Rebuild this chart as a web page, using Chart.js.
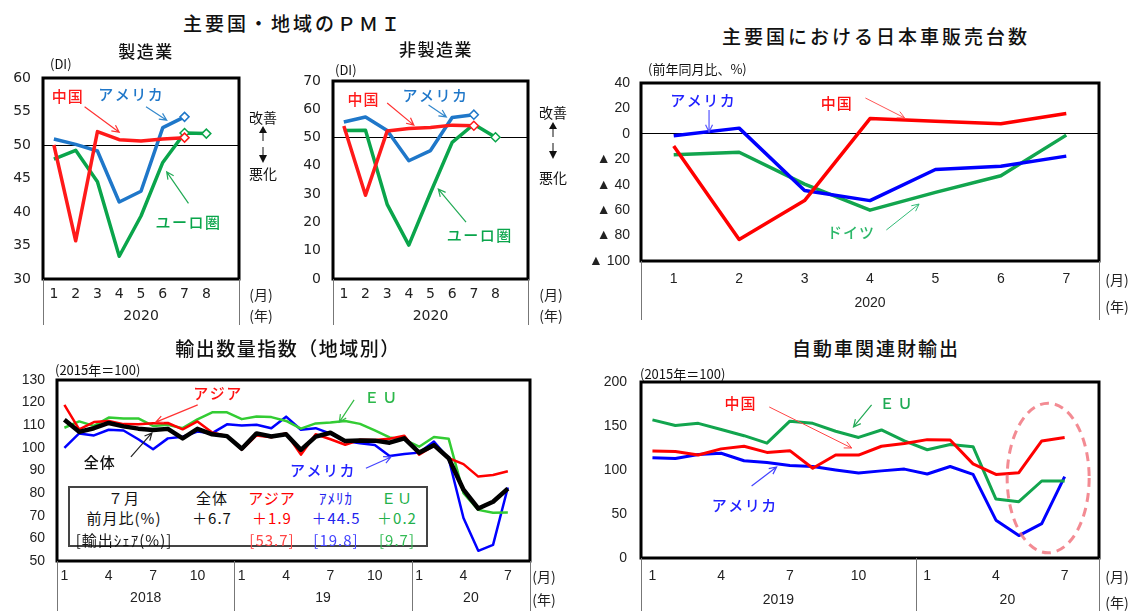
<!DOCTYPE html>
<html lang="ja">
<head>
<meta charset="UTF-8">
<title>主要国・地域のＰＭＩ ほか</title>
<script src="https://cdn.jsdelivr.net/npm/chart.js@4.4.1/dist/chart.umd.min.js"></script>
<style>
  html, body { margin: 0; padding: 0; background: #fff; }
  #page { position: relative; width: 1137px; height: 611px; overflow: hidden;
          font-family: "Noto Sans CJK JP", sans-serif; color: #111; }
  canvas { position: absolute; }
  .t { position: absolute; white-space: nowrap; line-height: 1; transform: translate(-50%, -50%); }
  .l { position: absolute; white-space: nowrap; line-height: 1; transform: translateY(-50%); }
  .title { font-size: 19px; letter-spacing: 3px; font-weight: 500; }
  .sub { font-size: 17px; letter-spacing: 1.5px; font-weight: 500; }
  .unit { font-size: 13px; }
  .ev { font-size: 14px; }
  #tbl { position: absolute; left: 68px; top: 486px; width: 360px; height: 61px;
         box-sizing: border-box; border: 2px solid #444; background: #fff; }
  #tbl .t { font-size: 15px; letter-spacing: 1px; }
</style>
</head>
<body>
<div id="page">
  <canvas id="mfg" width="290" height="275" style="left:0;top:60px"></canvas>
  <canvas id="svc" width="290" height="275" style="left:290px;top:60px"></canvas>
  <canvas id="car" width="557" height="260" style="left:580px;top:70px"></canvas>
  <canvas id="exp" width="580" height="241" style="left:0;top:370px"></canvas>
  <canvas id="auto" width="557" height="241" style="left:580px;top:370px"></canvas>

  <!-- headings -->
  <div class="t title" style="left:293px;top:22px">主要国・地域のＰＭＩ</div>
  <div class="t sub" style="left:146px;top:50px">製造業</div>
  <div class="t sub" style="left:436px;top:48px">非製造業</div>
  <div class="l unit" style="left:50px;top:63px">(DI)</div>
  <div class="l unit" style="left:335px;top:69px">(DI)</div>
  <div class="t title" style="left:876px;top:35px">主要国における日本車販売台数</div>
  <div class="l unit" style="left:648px;top:68px">(前年同月比、%)</div>
  <div class="t title" style="left:288px;top:347px;letter-spacing:1.5px">輸出数量指数（地域別）</div>
  <div class="l unit" style="left:55px;top:369px">(2015年＝100)</div>
  <div class="t title" style="left:876px;top:347px;letter-spacing:2px">自動車関連財輸出</div>
  <div class="l unit" style="left:640px;top:373px">(2015年＝100)</div>

  <!-- improve / worsen marks -->
  <div class="t ev" style="left:263px;top:117px">改善</div>
  <div class="t ev" style="left:263px;top:173px">悪化</div>
  <svg style="position:absolute;left:255px;top:126px" width="16" height="38">
    <path d="M8 0 L4 7 L12 7 Z M8 29 L4 29 L8 37 L12 29 Z" fill="#111"/>
    <path d="M8 7 V15 M8 21 V29" stroke="#111" stroke-width="1"/>
  </svg>
  <div class="t ev" style="left:553px;top:112px">改善</div>
  <div class="t ev" style="left:553px;top:177px">悪化</div>
  <svg style="position:absolute;left:545px;top:122px" width="16" height="38">
    <path d="M8 0 L4 7 L12 7 Z M8 29 L4 29 L8 37 L12 29 Z" fill="#111"/>
    <path d="M8 7 V15 M8 21 V29" stroke="#111" stroke-width="1"/>
  </svg>

  <!-- July summary box -->
  <div id="tbl">
    <div class="t" style="left:54px;top:9px">７月</div>
    <div class="t" style="left:142px;top:9px">全体</div>
    <div class="t" style="left:202px;top:9px;color:#ff0000">アジア</div>
    <div class="t" style="left:266px;top:9px;color:#2222ee">ｱﾒﾘｶ</div>
    <div class="t" style="left:327px;top:9px;color:#22b04a">ＥＵ</div>
    <div class="t" style="left:54px;top:29px">前月比(%)</div>
    <div class="t" style="left:142px;top:29px">＋6.7</div>
    <div class="t" style="left:202px;top:29px;color:#ff0000">＋1.9</div>
    <div class="t" style="left:266px;top:29px;color:#2222ee">＋44.5</div>
    <div class="t" style="left:327px;top:29px;color:#22b04a">＋0.2</div>
    <div class="t" style="left:54px;top:51px">[輸出ｼｪｱ(%)]</div>
    <div class="t" style="left:202px;top:51px;color:#ff4444">[53.7]</div>
    <div class="t" style="left:266px;top:51px;color:#4444ff">[19.8]</div>
    <div class="t" style="left:327px;top:51px;color:#33bb55">[9.7]</div>
  </div>
</div>

<script>
// ---- PMI (DI), 2020 ----
const pmiMonths = ['1', '2', '3', '4', '5', '6', '7', '8', ''];
const mfgChina = [50.0, 35.7, 52.0, 50.8, 50.6, 50.9, 51.1, null, null];
const mfgUS    = [50.9, 50.1, 49.1, 41.5, 43.1, 52.6, 54.2, null, null];
const mfgEuro  = [47.9, 49.2, 44.5, 33.4, 39.4, 47.4, 51.8, 51.7, null];
const svcChina = [54.1, 29.6, 52.3, 53.2, 53.6, 54.4, 54.2, null, null];
const svcUS    = [55.5, 57.3, 52.5, 41.8, 45.4, 57.1, 58.1, null, null];
const svcEuro  = [52.5, 52.6, 26.4, 12.0, 30.5, 48.3, 54.7, 50.1, null];

// ---- Japanese car sales, yoy % ----
const carMonths  = ['1', '2', '3', '4', '5', '6', '7'];
const carUS      = [-1.5, 4.5, -44.5, -52.5, -28, -25.5, -17.5];
const carChina   = [-9.5, -83, -52.5, 12, 10, 8, 16];
const carGermany = [-16.5, -14.5, -39.5, -60, -46, -33, -1];

// ---- Export volume index by region (2015=100), 2018/1 - 2020/7 ----
const expMonths = ['1','2','3','4','5','6','7','8','9','10','11','12',
                   '1','2','3','4','5','6','7','8','9','10','11','12',
                   '1','2','3','4','5','6','7',''];
const expTotal = [112.4, 107.1, 108.7, 111.0, 109.5, 108.5, 107.9, 108.4, 104.2, 108.4, 106.0, 105.2,
                  99.6, 106.4, 105.0, 106.0, 99.1, 105.0, 106.7, 103.0, 103.3, 103.2, 102.3, 104.2,
                  97.9, 101.2, 95.4, 81.5, 73.2, 76.2, 82.0];
const expAsia  = [119.0, 108.2, 111.4, 111.9, 110.5, 110.4, 110.9, 111.0, 108.2, 111.7, 106.8, 105.2,
                  99.2, 105.5, 104.7, 106.5, 97.0, 106.0, 103.8, 101.4, 103.6, 103.5, 104.0, 105.4,
                  97.0, 101.0, 95.5, 92.8, 87.3, 88.0, 89.7];
const expUS    = [100.0, 106.4, 105.5, 108.0, 107.7, 103.8, 99.4, 104.2, 104.9, 107.2, 106.5, 110.4,
                  109.9, 110.2, 108.7, 113.8, 108.0, 108.7, 106.3, 103.0, 102.0, 101.3, 96.4, 97.3,
                  97.9, 102.8, 95.2, 69.0, 54.5, 57.1, 82.5];
const expEU    = [108.9, 111.7, 109.7, 113.4, 113.0, 113.0, 109.7, 110.2, 108.7, 112.6, 115.7, 115.7,
                  112.7, 113.9, 113.6, 111.9, 108.5, 110.8, 111.2, 111.9, 110.6, 107.7, 104.6, 103.6,
                  100.5, 104.8, 104.0, 80.0, 72.6, 71.3, 71.4];
const expYears = [{ text: '2018', from: 0, to: 11 }, { text: '19', from: 12, to: 23 }, { text: '20', from: 24, to: 31 }];

// ---- Auto-related goods exports (2015=100), 2019/1 - 2020/7 ----
const autoMonths = ['1','2','3','4','5','6','7','8','9','10','11','12',
                    '1','2','3','4','5','6','7',''];
const autoChina = [121.5, 121, 117, 124, 127, 120, 122, 102, 117, 117, 127, 130,
                   134.5, 134, 107, 95, 97, 133, 137];
const autoUS    = [114, 113, 117.5, 119, 110.5, 108.5, 105, 104, 100, 96.5, 99, 101,
                   95.5, 104, 95, 43, 25.5, 39, 92.5];
const autoEU    = [157, 150.5, 153, 146, 139, 130.5, 155.5, 153, 144, 137, 145.5, 133,
                   123, 129, 126.5, 67, 64, 87.5, 87.5];
const autoYears = [{ text: '2019', from: 0, to: 11 }, { text: '20', from: 12, to: 19 }];

const JP = '"Noto Sans CJK JP", sans-serif';

function drawArrow(ctx, x1, y1, x2, y2, color, w) {
  const ang = Math.atan2(y2 - y1, x2 - x1), h = 8;
  ctx.strokeStyle = color;
  ctx.lineWidth = w;
  ctx.beginPath();
  ctx.moveTo(x1, y1);
  ctx.lineTo(x2, y2);
  ctx.moveTo(x2 - h * Math.cos(ang - 0.45), y2 - h * Math.sin(ang - 0.45));
  ctx.lineTo(x2, y2);
  ctx.lineTo(x2 - h * Math.cos(ang + 0.45), y2 - h * Math.sin(ang + 0.45));
  ctx.stroke();
}

// frame, year row, unit marks, callouts
const deco = {
  id: 'deco',
  afterDraw(chart, args, o) {
    const { ctx, chartArea: a } = chart;
    const x = chart.scales.x, y = chart.scales.y;
    ctx.save();
    ctx.strokeStyle = '#000';
    ctx.lineWidth = 3;
    ctx.strokeRect(a.left, a.top, a.right - a.left, a.bottom - a.top);

    ctx.lineWidth = 1;
    ctx.strokeStyle = '#777';
    const edges = [a.left, a.right];
    o.years.slice(1).forEach(s => edges.push(x.getPixelForValue(s.from - 0.5)));
    edges.forEach(px => {
      const p = Math.round(px) + 0.5;
      ctx.beginPath();
      ctx.moveTo(p, a.bottom);
      ctx.lineTo(p, a.bottom + o.sepLen);
      ctx.stroke();
    });

    ctx.fillStyle = '#222';
    ctx.textAlign = 'center';
    ctx.textBaseline = 'middle';
    ctx.font = o.tickFont;
    o.years.forEach(s => {
      const cx = (x.getPixelForValue(s.from - 0.5) + x.getPixelForValue(s.to + 0.5)) / 2;
      ctx.fillText(s.text, cx, a.bottom + o.yearY);
    });
    ctx.font = '14px ' + JP;
    ctx.fillText('(月)', a.right + o.unitDx, a.bottom + o.monthY);
    ctx.fillText('(年)', a.right + o.unitDx, a.bottom + o.nenY);

    (o.arrows || []).forEach(r => drawArrow(ctx,
      x.getPixelForValue(r.x1), y.getPixelForValue(r.y1),
      x.getPixelForValue(r.x2), y.getPixelForValue(r.y2), r.color, r.w || 1.2));

    (o.labels || []).forEach(l => {
      ctx.font = '500 15px ' + JP;
      ctx.letterSpacing = (l.sp || 1) + 'px';
      ctx.fillStyle = l.color;
      ctx.fillText(l.text, x.getPixelForValue(l.x), y.getPixelForValue(l.y));
    });
    ctx.letterSpacing = '0px';

    if (o.ellipse) {
      const e = o.ellipse;
      const cx = x.getPixelForValue(e.cx), cy = y.getPixelForValue(e.cy);
      const rx = x.getPixelForValue(e.cx + e.rx) - cx, ry = y.getPixelForValue(e.cy - e.ry) - cy;
      ctx.setLineDash([9, 6]);
      ctx.lineWidth = 3;
      ctx.strokeStyle = 'rgba(240,110,120,0.8)';
      ctx.beginPath();
      ctx.ellipse(cx, cy, rx, ry, 0, 0, Math.PI * 2);
      ctx.stroke();
    }
    ctx.restore();
  }
};

function lineChart(id, labels, series, c) {
  const tickFont = { family: c.family, size: c.size };
  c.deco.tickFont = c.size + 'px ' + c.family;
  return new Chart(document.getElementById(id), {
    type: 'line',
    data: {
      labels: labels,
      datasets: series.map(s => ({
        label: s.label,
        data: s.data,
        borderColor: s.color,
        borderWidth: s.width,
        borderJoinStyle: 'round',
        tension: 0,
        pointStyle: 'rectRot',
        pointRadius: ctx => (s.marks || []).includes(ctx.dataIndex) ? 4.5 : 0,
        pointBorderWidth: 1.5,
        pointBorderColor: s.color,
        pointBackgroundColor: '#fff'
      }))
    },
    options: {
      responsive: false,
      animation: false,
      events: [],
      layout: { padding: { top: c.padTop, right: c.padRight, left: 0, bottom: 0 } },
      plugins: { legend: { display: false }, tooltip: { enabled: false }, deco: c.deco },
      scales: {
        x: {
          offset: true,
          grid: { display: false, drawTicks: false },
          border: { display: false },
          ticks: {
            autoSkip: false, maxRotation: 0, padding: c.xPad, font: tickFont, color: '#222',
            callback: c.xCb || function (v) { return this.getLabelForValue(v); }
          },
          afterFit: s => { s.height = c.xHeight; }
        },
        y: {
          min: c.min, max: c.max,
          grid: { drawTicks: false, lineWidth: 1,
                  color: g => g.tick.value === c.ref ? '#000' : 'rgba(0,0,0,0)' },
          border: { display: false },
          ticks: { stepSize: c.step, padding: c.yPad, font: tickFont, color: '#222',
                   callback: c.yCb || (v => v) },
          // fixed axis width; plot top/bottom set only by layout padding
          afterFit: s => { s.width = c.yWidth; s.paddingTop = 0; s.paddingBottom = 0; }
        }
      }
    },
    plugins: [deco]
  });
}

const pmiRed = '#ff1a1a', pmiBlue = '#1f77c9', pmiGreen = '#0aa54b';

lineChart('mfg', pmiMonths, [
  { label: '中国', data: mfgChina, color: pmiRed, width: 3.5, marks: [6] },
  { label: 'アメリカ', data: mfgUS, color: pmiBlue, width: 3.5, marks: [6] },
  { label: 'ユーロ圏', data: mfgEuro, color: pmiGreen, width: 3.5, marks: [6, 7] }
], {
  family: '"DejaVu Sans", sans-serif', size: 14, min: 30, max: 60, step: 5, ref: 50,
  padTop: 18, padRight: 51, yWidth: 43, xHeight: 56, xPad: 7, yPad: 12,
  deco: {
    years: [{ text: '2020', from: 0, to: 8 }], sepLen: 46, yearY: 37, monthY: 16, nenY: 37, unitDx: 22,
    labels: [
      { x: 0.64, y: 57.2, text: '中国', color: pmiRed },
      { x: 3.55, y: 57.5, text: 'アメリカ', color: pmiBlue, sp: 1.5 },
      { x: 6.18, y: 38.4, text: 'ユーロ圏', color: pmiGreen, sp: 1.5 }
    ],
    arrows: [
      { x1: 1.41, y1: 55.7, x2: 3.0, y2: 51.9, color: '#ff3333' },
      { x1: 4.23, y1: 55.7, x2: 5.18, y2: 53.7, color: '#3388cc' },
      { x1: 6.18, y1: 41.3, x2: 5.18, y2: 46.0, color: '#22aa55' }
    ]
  }
});

lineChart('svc', pmiMonths, [
  { label: '中国', data: svcChina, color: pmiRed, width: 3.5, marks: [6] },
  { label: 'アメリカ', data: svcUS, color: pmiBlue, width: 3.5, marks: [6] },
  { label: 'ユーロ圏', data: svcEuro, color: pmiGreen, width: 3.5, marks: [7] }
], {
  family: '"DejaVu Sans", sans-serif', size: 14, min: 0, max: 70, step: 10, ref: 50,
  padTop: 21, padRight: 52, yWidth: 43, xHeight: 56, xPad: 7, yPad: 12,
  deco: {
    years: [{ text: '2020', from: 0, to: 8 }], sepLen: 46, yearY: 37, monthY: 16, nenY: 37, unitDx: 23,
    labels: [
      { x: 0.91, y: 63.6, text: '中国', color: pmiRed },
      { x: 4.23, y: 65.0, text: 'アメリカ', color: pmiBlue, sp: 1.5 },
      { x: 6.27, y: 15.6, text: 'ユーロ圏', color: pmiGreen, sp: 1.5 }
    ],
    arrows: [
      { x1: 2.0, y1: 62.2, x2: 3.23, y2: 54.4, color: '#ff3333' },
      { x1: 3.91, y1: 61.5, x2: 4.73, y2: 57.3, color: '#3388cc' },
      { x1: 5.64, y1: 20.1, x2: 4.36, y2: 31.8, color: '#22aa55' }
    ]
  }
});

lineChart('car', carMonths, [
  { label: '中国', data: carChina, color: '#ff0000', width: 3.5 },
  { label: 'アメリカ', data: carUS, color: '#0000ff', width: 3.5 },
  { label: 'ドイツ', data: carGermany, color: '#12a54e', width: 3.5 }
], {
  family: '"Liberation Sans", "DejaVu Sans", sans-serif', size: 14, min: -100, max: 40, step: 20, ref: 0,
  padTop: 13, padRight: 38, yWidth: 61, xHeight: 69, xPad: 10, yPad: 11,
  yCb: v => v < 0 ? '▲ ' + (-v) : String(v),
  deco: {
    years: [{ text: '2020', from: 0, to: 6 }], sepLen: 59, yearY: 42, monthY: 19, nenY: 46, unitDx: 18,
    labels: [
      { x: 0.45, y: 26.6, text: 'アメリカ', color: '#2222ff', sp: 1.5 },
      { x: 2.49, y: 24.3, text: '中国', color: '#ff1111' },
      { x: 2.71, y: -77.2, text: 'ドイツ', color: '#2db86a', sp: 1 }
    ],
    arrows: [
      { x1: 0.54, y1: 18.8, x2: 0.54, y2: 1.5, color: '#5555ff' },
      { x1: 2.93, y1: 28.2, x2: 3.53, y2: 12.5, color: '#ff5555', w: 1 },
      { x1: 3.25, y1: -75.6, x2: 3.75, y2: -55.2, color: '#33bb77', w: 1 }
    ]
  }
});

const quarterTicks = ['1', '4', '7', '10'];

lineChart('exp', expMonths, [
  { label: '全体', data: expTotal, color: '#000', width: 4.5 },
  { label: 'アジア', data: expAsia, color: '#ff0000', width: 2.5 },
  { label: 'ＥＵ', data: expEU, color: '#33cc33', width: 2.5 },
  { label: 'アメリカ', data: expUS, color: '#0000ff', width: 2.5 }
], {
  family: '"Liberation Sans", sans-serif', size: 14, min: 50, max: 130, step: 10, ref: null,
  padTop: 10, padRight: 50, yWidth: 57, xHeight: 50, xPad: 7, yPad: 12,
  xCb: (v, i) => quarterTicks.includes(expMonths[i]) ? expMonths[i] : '',
  deco: {
    years: expYears, sepLen: 50, yearY: 37, monthY: 16, nenY: 39, unitDx: 14,
    labels: [
      { x: 10.4, y: 124.3, text: 'アジア', color: '#ff1111', sp: 1.5 },
      { x: 21.5, y: 122.5, text: 'ＥＵ', color: '#2cb84a', sp: 3 },
      { x: 2.4, y: 93.8, text: '全体', color: '#111', sp: 1 },
      { x: 17.5, y: 90.2, text: 'アメリカ', color: '#2222ff', sp: 1.5 }
    ],
    arrows: [
      { x1: 9.02, y1: 119.0, x2: 6.19, y2: 111.4, color: '#ff3333' },
      { x1: 19.6, y1: 121.2, x2: 18.6, y2: 111.4, color: '#33bb44' },
      { x1: 4.5, y1: 96.0, x2: 5.92, y2: 106.6, color: '#222' },
      { x1: 20.4, y1: 91.0, x2: 22.1, y2: 96.0, color: '#4444ff' }
    ]
  }
});

lineChart('auto', autoMonths, [
  { label: '中国', data: autoChina, color: '#ff0000', width: 3 },
  { label: 'ＥＵ', data: autoEU, color: '#12a54e', width: 3 },
  { label: 'アメリカ', data: autoUS, color: '#0000ff', width: 3 }
], {
  family: '"Liberation Sans", sans-serif', size: 14, min: 0, max: 200, step: 50, ref: null,
  padTop: 12, padRight: 38, yWidth: 61, xHeight: 53, xPad: 10, yPad: 14,
  xCb: (v, i) => quarterTicks.includes(autoMonths[i]) ? autoMonths[i] : '',
  deco: {
    years: autoYears, sepLen: 53, yearY: 42, monthY: 19, nenY: 45, unitDx: 18,
    labels: [
      { x: 3.85, y: 176, text: '中国', color: '#ff1111' },
      { x: 10.7, y: 176, text: 'ＥＵ', color: '#1faa55', sp: 3 },
      { x: 4.03, y: 60.2, text: 'アメリカ', color: '#2222ff', sp: 1.5 }
    ],
    arrows: [
      { x1: 5.1, y1: 171.6, x2: 8.7, y2: 125.0, color: '#ff4444', w: 1 },
      { x1: 9.57, y1: 173.9, x2: 8.78, y2: 148.9, color: '#22aa55' },
      { x1: 4.33, y1: 81.8, x2: 5.42, y2: 103.4, color: '#4444ff' }
    ],
    ellipse: { cx: 17.28, cy: 90.9, rx: 1.79, ry: 85 }
  }
});
</script>
</body>
</html>
